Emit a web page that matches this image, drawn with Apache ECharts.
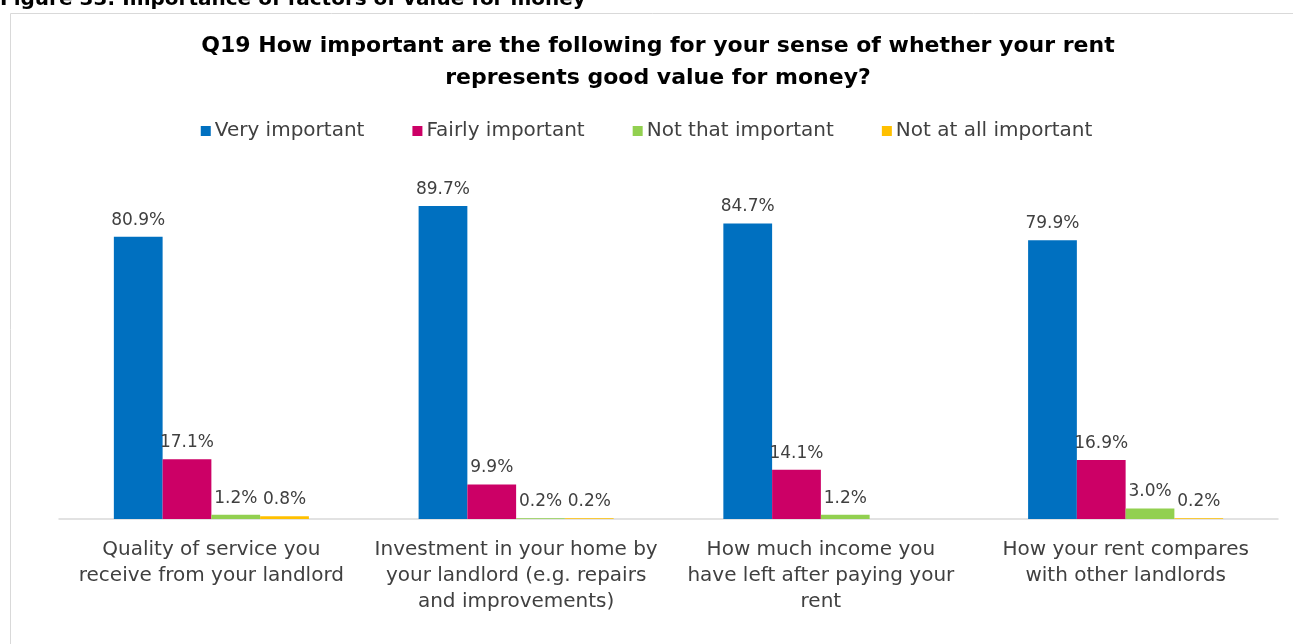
<!DOCTYPE html>
<html>
<head>
<meta charset="utf-8">
<script src="https://cdn.jsdelivr.net/npm/echarts@6/dist/echarts.min.js"></script>
<style>
  html, body { margin: 0; padding: 0; background: #fff; }
  #chart { width: 1293px; height: 644px; }
</style>
</head>
<body>
<div id="chart"></div>
<script>
// categories (x axis)
const categories = [
  'Quality of service you\nreceive from your landlord',
  'Investment in your home by\nyour landlord (e.g. repairs\nand improvements)',
  'How much income you\nhave left after paying your\nrent',
  'How your rent compares\nwith other landlords'
]

// series values (%)
const veryImportant = [80.9, 89.7, 84.7, 79.9]
const fairlyImportant = [17.1, 9.9, 14.1, 16.9]
const notThatImportant = [1.2, 0.2, 1.2, 3.0]
const notAtAllImportant = [0.8, 0.2, null, 0.2]

const seriesNames = ['Very important', 'Fairly important', 'Not that important', 'Not at all important']
const seriesColors = ['#0070C0', '#CC0066', '#92D050', '#FFC000']

const font = 'DejaVu Sans'
const chart = echarts.init(document.getElementById('chart'))

const makeSeries = (name, data, color) => ({
  name,
  type: 'bar',
  data,
  barGap: '0%',
  barCategoryGap: '36%',
  itemStyle: { color },
  label: {
    show: true,
    position: 'top',
    distance: 8,
    formatter: (p) => p.value.toFixed(1) + '%',
    color: '#404040',
    fontFamily: font,
    fontSize: 17
  }
})

const option = {
  animation: false,
  graphic: [
    {
      type: 'text',
      left: 0,
      top: -10,
      style: {
        text: 'Figure 33: Importance of factors of value for money',
        font: 'bold 20px "DejaVu Sans"',
        fill: '#000'
      }
    },
    {
      type: 'rect',
      shape: { x: 10.5, y: 13.5, width: 1300, height: 700 },
      style: { fill: 'none', stroke: '#d9d9d9', lineWidth: 1 },
      silent: true
    }
  ],
  title: {
    text: 'Q19 How important are the following for your sense of whether your rent\nrepresents good value for money?',
    left: 653,
    top: 25,
    textAlign: 'center',
    textStyle: {
      fontFamily: font,
      fontWeight: 'bold',
      fontSize: 22,
      lineHeight: 32,
      color: '#000'
    }
  },
  legend: {
    top: 116,
    left: 'center',
    itemWidth: 10,
    itemHeight: 10,
    itemGap: 48,
    icon: 'rect',
    data: seriesNames,
    textStyle: { fontFamily: font, fontSize: 20, color: '#404040', padding: [0, 0, 0, -1] }
  },
  grid: {
    left: 59,
    right: 15,
    top: 170,
    bottom: 125
  },
  xAxis: {
    type: 'category',
    data: categories,
    axisLine: { lineStyle: { color: '#d9d9d9', width: 1.5 } },
    axisTick: { show: false },
    axisLabel: {
      interval: 0,
      margin: 18,
      fontFamily: font,
      fontSize: 20,
      lineHeight: 26,
      color: '#404040'
    }
  },
  yAxis: {
    type: 'value',
    min: 0,
    max: 100,
    show: false,
    splitLine: { show: false }
  },
  series: [
    makeSeries(seriesNames[0], veryImportant, seriesColors[0]),
    makeSeries(seriesNames[1], fairlyImportant, seriesColors[1]),
    makeSeries(seriesNames[2], notThatImportant, seriesColors[2]),
    makeSeries(seriesNames[3], notAtAllImportant, seriesColors[3])
  ]
}

chart.setOption(option)
</script>
</body>
</html>
